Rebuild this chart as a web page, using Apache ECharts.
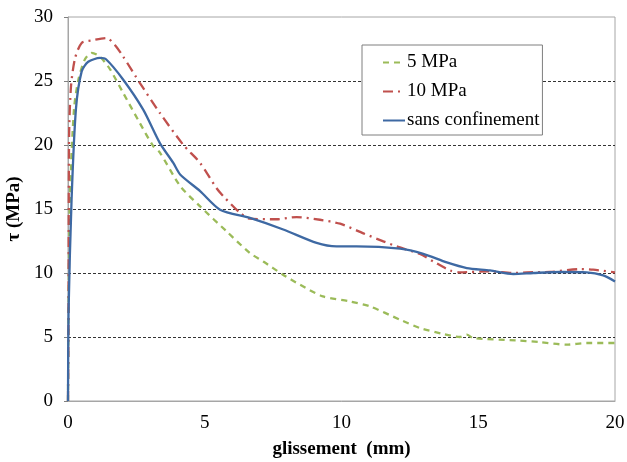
<!DOCTYPE html>
<html><head><meta charset="utf-8">
<script src="https://cdn.jsdelivr.net/npm/echarts@6/dist/echarts.min.js"></script>
<style>html,body{margin:0;padding:0;background:#fff}#c{width:627px;height:462px}</style>
</head><body><div id="c"></div>
<script>
const seriesNames = ['5 MPa', '10 MPa', 'sans confinement'];
const xTicks = [0, 5, 10, 15, 20];
const yTicks = [0, 5, 10, 15, 20, 25, 30];
const data5MPa = [[0,0],[0.02,7],[0.07,16],[0.22,22.8],[0.38,25.1],[0.62,26.7],[0.87,27.2],[1.17,26.9],[1.54,25.9],[2.02,24.06],[2.63,21.7],[3.12,19.9],[3.36,19.4],[4.1,16.8],[4.83,15.2],[5.8,13.25],[6.65,11.56],[7.14,10.9],[7.86,9.87],[8.48,9.09],[9.32,8.17],[10.31,7.78],[11.04,7.39],[12.14,6.35],[12.87,5.7],[13.72,5.23],[14.33,5.0],[14.58,5.18],[14.82,4.92],[16.4,4.73],[17.26,4.6],[18.23,4.4],[18.96,4.53],[20,4.53]];
const data10MPa = [[0,0],[0.02,7],[0.04,20.7],[0.11,24.6],[0.26,26.8],[0.5,27.97],[0.87,28.17],[1.41,28.36],[1.72,27.8],[2.02,26.9],[2.63,24.84],[3.36,22.5],[4.22,20.0],[4.83,18.6],[5.44,16.6],[5.68,16.0],[6.29,14.7],[6.65,14.24],[7.63,14.2],[8.36,14.37],[9.21,14.16],[9.95,13.85],[10.8,13.1],[11.53,12.47],[12.02,12.08],[12.87,11.48],[13.36,10.9],[13.97,10.2],[14.33,10.05],[15.43,10.13],[16.28,10.0],[16.77,10.05],[17.62,10.08],[18.72,10.3],[19.2,10.26],[20,10.05]];
const dataSans = [[0,0],[0.02,7],[0.13,15.7],[0.29,22.8],[0.5,25.75],[0.74,26.5],[1.17,26.8],[1.39,26.7],[2.02,25.1],[2.75,22.76],[3.36,20.15],[3.85,18.6],[4.1,17.7],[4.83,16.4],[5.56,14.95],[6.65,14.3],[7.87,13.4],[9.09,12.35],[9.82,12.08],[10.55,12.08],[12.14,11.9],[12.99,11.5],[13.85,10.83],[14.58,10.39],[15.43,10.2],[16.28,9.92],[17.01,10.0],[17.99,10.08],[18.96,10.05],[19.57,9.81],[20,9.34]];

const FONT = '"Liberation Serif", "Times New Roman", serif';
const chart = echarts.init(document.getElementById('c'), null, {renderer: 'canvas'});
chart.setOption({
  animation: false,
  backgroundColor: '#fff',
  grid: {left: 68, right: 12, top: 17, bottom: 61, show: true, borderColor: '#a6a6a6', borderWidth: 1,
         containLabel: false, outerBoundsMode: 'none'},
  legend: {
    orient: 'vertical', left: 362, top: 45,
    padding: [8, 3, 5, 20], itemGap: 10,
    borderColor: '#7f7f7f', borderWidth: 1, backgroundColor: '#fff',
    itemWidth: 22, itemHeight: 14,
    itemStyle: {opacity: 0},
    textStyle: {fontFamily: FONT, fontSize: 19, color: '#000', padding: [0, 0, 0, -3]},
    data: seriesNames
  },
  xAxis: {
    type: 'value', min: 0, max: 20, interval: 5,
    name: 'glissement  (mm)', nameLocation: 'middle', nameGap: 39,
    nameTextStyle: {fontFamily: FONT, fontSize: 19, fontWeight: 'bold', color: '#000'},
    axisLine: {show: true, lineStyle: {color: '#a6a6a6'}},
    axisTick: {show: false},
    axisLabel: {fontFamily: FONT, fontSize: 19, color: '#000', margin: 13},
    splitLine: {show: false}
  },
  yAxis: {
    type: 'value', min: 0, max: 30, interval: 5,
    name: 'τ (MPa)', nameLocation: 'middle', nameGap: 36, nameRotate: 90,
    nameTextStyle: {fontFamily: FONT, fontSize: 19, fontWeight: 'bold', color: '#000'},
    axisLine: {show: true, lineStyle: {color: '#a6a6a6'}},
    axisTick: {show: true, length: 4, lineStyle: {color: '#808080'}},
    axisLabel: {fontFamily: FONT, fontSize: 19, color: '#000', margin: 15},
    splitLine: {show: true, showMinLine: false, showMaxLine: false, lineStyle: {color: '#000', type: [3, 2], width: 0.8}}
  },
  series: [
    {name: seriesNames[0], type: 'line', data: data5MPa, symbol: 'none', smooth: 0.25,
     lineStyle: {color: '#9bbb59', width: 2.3, type: [6, 5]}, itemStyle: {color: '#9bbb59'}},
    {name: seriesNames[1], type: 'line', data: data10MPa, symbol: 'none', smooth: 0.25,
     lineStyle: {color: '#c0504d', width: 2.3, type: [10, 5, 2, 5]}, itemStyle: {color: '#c0504d'}},
    {name: seriesNames[2], type: 'line', data: dataSans, symbol: 'none', smooth: 0.25,
     lineStyle: {color: '#3e69a3', width: 2.3, type: 'solid'}, itemStyle: {color: '#3e69a3'}}
  ]
});
</script></body></html>
